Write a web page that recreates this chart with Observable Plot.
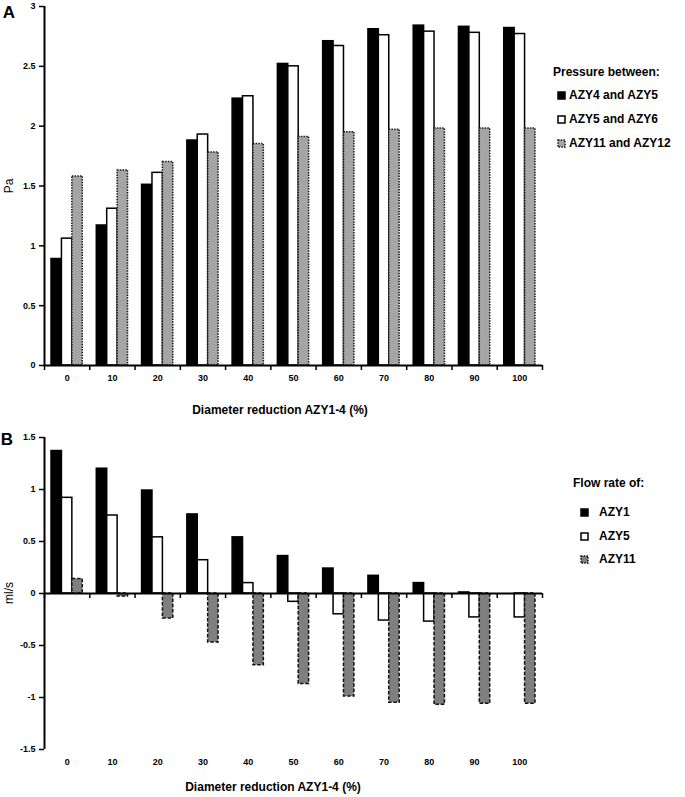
<!DOCTYPE html>
<html>
<head>
<meta charset="utf-8">
<script src="https://cdn.jsdelivr.net/npm/d3@7"></script>
<script src="https://cdn.jsdelivr.net/npm/@observablehq/plot@0.6"></script>
<style>
  html, body { margin: 0; padding: 0; background: #fff; }
  #root { position: relative; width: 685px; height: 797px; font-family: "Liberation Sans", Arial, sans-serif; color: #000; overflow: hidden; }
  .abs { position: absolute; white-space: nowrap; }
  .c { transform: translate(-50%, -50%); }
  .l { transform: translate(0, -50%); }
  .b { font-weight: bold; }
  .leg { position: absolute; display: flex; align-items: center; font-weight: bold; font-size: 12px; transform: translate(0, -50%); white-space: nowrap; }
  .leg svg { display: block; }
</style>
</head>
<body>
<div id="root"></div>
<script>
// ---------- data ----------
const categories = [0, 10, 20, 30, 40, 50, 60, 70, 80, 90, 100];
const boundaries = [-5, 5, 15, 25, 35, 45, 55, 65, 75, 85, 95, 105];

// Panel A: pressure (Pa)
const pressureAZY4_AZY5   = [0.89, 1.17, 1.51, 1.88, 2.23, 2.52, 2.71, 2.81, 2.84, 2.83, 2.82];
const pressureAZY5_AZY6   = [1.06, 1.31, 1.61, 1.93, 2.25, 2.50, 2.67, 2.76, 2.79, 2.78, 2.77];
const pressureAZY11_AZY12 = [1.58, 1.63, 1.70, 1.78, 1.85, 1.91, 1.95, 1.97, 1.98, 1.98, 1.98];
const pressureTicks = [0, 0.5, 1, 1.5, 2, 2.5, 3];

// Panel B: flow rate (ml/s)
const flowAZY1  = [1.37, 1.20, 0.99, 0.76, 0.54, 0.36, 0.24, 0.17, 0.10, 0.01, 0.0];
const flowAZY5  = [0.92, 0.75, 0.54, 0.32, 0.10, -0.08, -0.20, -0.26, -0.27, -0.23, -0.23];
const flowAZY11 = [0.14, -0.03, -0.24, -0.47, -0.69, -0.87, -0.99, -1.05, -1.07, -1.06, -1.06];
const flowTicks = [-1.5, -1, -0.5, 0, 0.5, 1, 1.5];

const xTitle = "Diameter reduction AZY1-4 (%)";

// ---------- helpers ----------
const BW = 2.3; // bar width in x units (category step = 10)
const fmt = d => String(d);
const rows = vals => categories.map((c, i) => ({c, v: vals[i]}));

function bars(vals, k, opts) {
  return Plot.rectY(rows(vals), {
    x1: d => d.c + (k - 1.5) * BW,
    x2: d => d.c + (k - 0.5) * BW,
    y1: 0,
    y2: "v",
    strokeWidth: 1.5,
    ...opts
  });
}

const baseStyle = {
  fontFamily: "'Liberation Sans', Arial, sans-serif",
  fontSize: "9px",
  fontWeight: "bold",
  background: "white",
  color: "black",
  overflow: "visible"
};

// ---------- Panel A ----------
const chartA = Plot.plot({
  width: 685,
  height: 420,
  marginTop: 6,
  marginBottom: 55,
  marginLeft: 44,
  marginRight: 143,
  style: baseStyle,
  x: {type: "linear", domain: [-5, 105]},
  y: {domain: [0, 3]},
  marks: [
    bars(pressureAZY4_AZY5, 0, {fill: "black", stroke: "black"}),
    bars(pressureAZY5_AZY6, 1, {fill: "white", stroke: "black"}),
    bars(pressureAZY11_AZY12, 2, {fill: "#a5a5a5", stroke: "#1a1a1a", strokeDasharray: "1.5,1.2"}),
    Plot.ruleY([0], {strokeWidth: 2}),
    Plot.ruleX([-5], {strokeWidth: 2}),
    Plot.ruleX(boundaries, {x: d => d, y1: 0, y2: 0, insetBottom: -5, strokeWidth: 1.5}),
    Plot.axisY({ticks: pressureTicks, tickSize: 5, tickPadding: 4, tickFormat: fmt, label: null, strokeWidth: 1.5}),
    Plot.axisX({ticks: categories, tickSize: 0, tickPadding: 9, tickFormat: fmt, label: null})
  ]
});

// ---------- Panel B ----------
const chartB = Plot.plot({
  width: 685,
  height: 377,
  marginTop: 17,
  marginBottom: 48,
  marginLeft: 44,
  marginRight: 143,
  style: baseStyle,
  x: {type: "linear", domain: [-5, 105]},
  y: {domain: [-1.5, 1.5]},
  marks: [
    bars(flowAZY1, 0, {fill: "black", stroke: "black"}),
    bars(flowAZY5, 1, {fill: "white", stroke: "black"}),
    bars(flowAZY11, 2, {fill: "#7f7f7f", stroke: "#111", strokeDasharray: "3.5,1.8"}),
    Plot.ruleY([0], {strokeWidth: 2}),
    Plot.ruleX([-5], {strokeWidth: 2}),
    Plot.ruleX(boundaries, {x: d => d, y1: 0, y2: 0, insetBottom: -5, strokeWidth: 1.5}),
    Plot.axisY({ticks: flowTicks, tickSize: 5, tickPadding: 4, tickFormat: fmt, label: null, strokeWidth: 1.5}),
    Plot.axisX({ticks: categories, tickSize: 0, tickPadding: 9, tickFormat: fmt, label: null})
  ]
});

// ---------- layout ----------
const root = document.getElementById("root");
function place(node, left, top) {
  const w = document.createElement("div");
  w.style.position = "absolute";
  w.style.left = left + "px";
  w.style.top = top + "px";
  w.appendChild(node);
  root.appendChild(w);
}
place(chartA, 0, 0);
place(chartB, 0, 420);

function text(str, x, y, cls, style) {
  const d = document.createElement("div");
  d.className = "abs " + cls;
  d.textContent = str;
  d.style.left = x + "px";
  d.style.top = y + "px";
  Object.assign(d.style, style || {});
  root.appendChild(d);
  return d;
}

// panel letters
text("A", 9, 13, "c b", {fontSize: "17px"});
text("B", 7, 440, "c b", {fontSize: "17px"});
// y titles
text("Pa", 9, 186, "c", {fontSize: "12px", transform: "translate(-50%,-50%) rotate(-90deg)"});
text("ml/s", 9, 593, "c", {fontSize: "12px", transform: "translate(-50%,-50%) rotate(-90deg)"});
// x titles
text(xTitle, 280, 410, "c b", {fontSize: "12px"});
text(xTitle, 273, 787, "c b", {fontSize: "12px"});

// legends
function swatch(fill, stroke, dash) {
  const ns = "http://www.w3.org/2000/svg";
  const s = document.createElementNS(ns, "svg");
  s.setAttribute("width", 9); s.setAttribute("height", 9);
  const r = document.createElementNS(ns, "rect");
  r.setAttribute("x", 1); r.setAttribute("y", 1);
  r.setAttribute("width", 7); r.setAttribute("height", 7);
  r.setAttribute("fill", fill);
  r.setAttribute("stroke", stroke);
  r.setAttribute("stroke-width", 1.5);
  if (dash) r.setAttribute("stroke-dasharray", dash);
  s.appendChild(r);
  return s;
}
function legendItem(label, sw, x, y, gap) {
  const d = document.createElement("div");
  d.className = "leg";
  d.style.left = x + "px";
  d.style.top = y + "px";
  d.appendChild(sw);
  const t = document.createElement("span");
  t.textContent = label;
  t.style.marginLeft = gap + "px";
  d.appendChild(t);
  root.appendChild(d);
}

const legendA = ["AZY4 and AZY5", "AZY5 and AZY6", "AZY11 and AZY12"];
const legendB = ["AZY1", "AZY5", "AZY11"];

text("Pressure between:", 553, 72, "l b", {fontSize: "12px"});
legendItem(legendA[0], swatch("black", "black"), 557, 95, 3);
legendItem(legendA[1], swatch("white", "black"), 557, 119, 3);
legendItem(legendA[2], swatch("#a5a5a5", "#1a1a1a", "1.5,1.2"), 557, 143, 3);

text("Flow rate of:", 573, 483, "l b", {fontSize: "12px"});
legendItem(legendB[0], swatch("black", "black"), 580, 512, 10);
legendItem(legendB[1], swatch("white", "black"), 580, 536, 10);
legendItem(legendB[2], swatch("#7f7f7f", "#111", "1.5,1.2"), 580, 559, 10);
</script>
</body>
</html>
